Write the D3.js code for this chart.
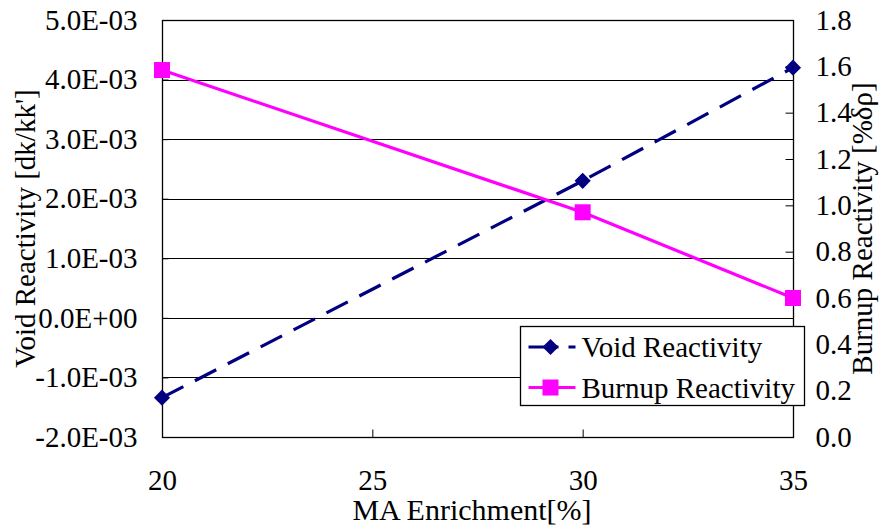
<!DOCTYPE html>
<html>
<head>
<meta charset="utf-8">
<script src="https://cdn.jsdelivr.net/npm/d3@7"></script>
<style>
  html, body { margin: 0; padding: 0; background: #fff; }
</style>
</head>
<body>
<svg id="chart" width="881" height="527"></svg>
<script>
// MA enrichment [%] at each calculated core
const enrichment = [20, 30, 35];
// Void reactivity [dk/kk'] (left axis)
const voidReactivity = [-1.34e-3, 2.30e-3, 4.20e-3];
// Burnup reactivity [%δρ] (right axis)
const burnupReactivity = [1.584, 0.970, 0.600];

const xTicks = [20, 25, 30, 35];
const leftTicks = [-2e-3, -1e-3, 0, 1e-3, 2e-3, 3e-3, 4e-3, 5e-3];
const rightTicks = [0, 0.2, 0.4, 0.6, 0.8, 1.0, 1.2, 1.4, 1.6, 1.8];

const seriesNames = ["Void Reactivity", "Burnup Reactivity"];

const plot = { left: 162, right: 793, top: 20, bottom: 437 };
const FAMILY = '"Liberation Serif", "Times New Roman", Times, serif';
const FONT = 29;
const NAVY = "#000080";
const MAGENTA = "#FF00FF";

const svg = d3.select("#chart");

const x = d3.scaleLinear().domain([20, 35]).range([plot.left, plot.right]);
const yL = d3.scaleLinear().domain([-2e-3, 5e-3]).range([plot.bottom, plot.top]);
const yR = d3.scaleLinear().domain([0, 1.8]).range([plot.bottom, plot.top]);

const fmtE = v => {
  if (v === 0) return "0.0E+00";
  const s = v.toExponential(1).toUpperCase();       // e.g. "5.0E-3"
  const m = s.match(/^(-?\d\.\d)E([+-])(\d+)$/);
  return m[1] + "E" + m[2] + m[3].padStart(2, "0");
};

const styleText = (sel, size) => sel
  .style("font-family", FAMILY)
  .style("font-size", size + "px")
  .style("fill", "#000");

// horizontal gridlines from the left axis
svg.append("g")
  .selectAll("line")
  .data(leftTicks)
  .join("line")
  .attr("x1", plot.left).attr("x2", plot.right)
  .attr("y1", d => Math.round(yL(d)) + 0.5)
  .attr("y2", d => Math.round(yL(d)) + 0.5)
  .attr("stroke", "#000").attr("stroke-width", 1);

// left axis
const leftAxis = svg.append("g")
  .attr("transform", `translate(${plot.left + 0.5},0)`)
  .call(d3.axisLeft(yL).tickValues(leftTicks).tickSize(-6).tickPadding(25).tickFormat(fmtE));

// right axis
const rightAxis = svg.append("g")
  .attr("transform", `translate(${plot.right + 0.5},0)`)
  .call(d3.axisRight(yR).tickValues(rightTicks).tickSize(-8).tickPadding(22).tickFormat(d3.format(".1f")));

// bottom axis
const bottomAxis = svg.append("g")
  .attr("transform", `translate(0,${plot.bottom + 0.5})`)
  .call(d3.axisBottom(x).tickValues(xTicks).tickSize(-8).tickPadding(32).tickFormat(d3.format("d")));

[leftAxis, rightAxis, bottomAxis].forEach(g => {
  g.select(".domain").remove();
  g.selectAll(".tick line").attr("stroke", "#000").attr("stroke-width", 1);
  styleText(g.selectAll(".tick text"), FONT);
});

// plot frame
svg.append("rect")
  .attr("x", plot.left + 0.5).attr("y", plot.top + 0.5)
  .attr("width", plot.right - plot.left).attr("height", plot.bottom - plot.top)
  .attr("fill", "none").attr("stroke", "#000").attr("stroke-width", 1.3);

// void reactivity: dashed navy line with diamonds
const voidData = enrichment.map((e, i) => [e, voidReactivity[i]]);
svg.append("path")
  .datum(voidData)
  .attr("d", d3.line().x(d => x(d[0])).y(d => yL(d[1])))
  .attr("fill", "none").attr("stroke", NAVY)
  .attr("stroke-width", 3.2).attr("stroke-dasharray", "24,13");

const diamond = d3.symbol().type(d3.symbolSquare).size(130);
svg.append("g")
  .selectAll("path")
  .data(voidData)
  .join("path")
  .attr("d", diamond)
  .attr("transform", d => `translate(${x(d[0])},${yL(d[1])}) rotate(45)`)
  .attr("fill", NAVY);

// burnup reactivity: solid magenta line with squares
const burnData = enrichment.map((e, i) => [e, burnupReactivity[i]]);
svg.append("path")
  .datum(burnData)
  .attr("d", d3.line().x(d => x(d[0])).y(d => yR(d[1])))
  .attr("fill", "none").attr("stroke", MAGENTA).attr("stroke-width", 3.2);

svg.append("g")
  .selectAll("rect")
  .data(burnData)
  .join("rect")
  .attr("x", d => x(d[0]) - 8).attr("y", d => yR(d[1]) - 8)
  .attr("width", 16).attr("height", 16)
  .attr("fill", MAGENTA);

// axis titles
styleText(svg.append("text")
  .attr("transform", `translate(35,${(plot.top + plot.bottom) / 2}) rotate(-90)`)
  .attr("text-anchor", "middle")
  .text("Void Reactivity [dk/kk']"), FONT);

styleText(svg.append("text")
  .attr("transform", `translate(872,${(plot.top + plot.bottom) / 2}) rotate(-90)`)
  .attr("text-anchor", "middle")
  .text("Burnup Reactivity [%δρ]"), FONT);

styleText(svg.append("text")
  .attr("x", 472).attr("y", 520)
  .attr("text-anchor", "middle")
  .text("MA Enrichment[%]"), 30);

// legend
const legend = svg.append("g").attr("transform", "translate(520.5,326.5)");
legend.append("rect")
  .attr("width", 284).attr("height", 79)
  .attr("fill", "#fff").attr("stroke", "#000").attr("stroke-width", 1.3);

const rows = [
  { name: seriesNames[0], color: NAVY, dash: "30,10", y: 20.5 },
  { name: seriesNames[1], color: MAGENTA, dash: null, y: 61 }
];
rows.forEach((r, i) => {
  legend.append("line")
    .attr("x1", 8).attr("x2", 55).attr("y1", r.y).attr("y2", r.y)
    .attr("stroke", r.color).attr("stroke-width", 3.2)
    .attr("stroke-dasharray", r.dash);
  if (i === 0) {
    legend.append("path").attr("d", diamond)
      .attr("transform", `translate(30,${r.y}) rotate(45)`).attr("fill", r.color);
  } else {
    legend.append("rect").attr("x", 22).attr("y", r.y - 8)
      .attr("width", 16).attr("height", 16).attr("fill", r.color);
  }
  styleText(legend.append("text")
    .attr("x", 61).attr("y", r.y)
    .attr("dy", "0.35em")
    .text(r.name), FONT);
});
</script>
</body>
</html>
